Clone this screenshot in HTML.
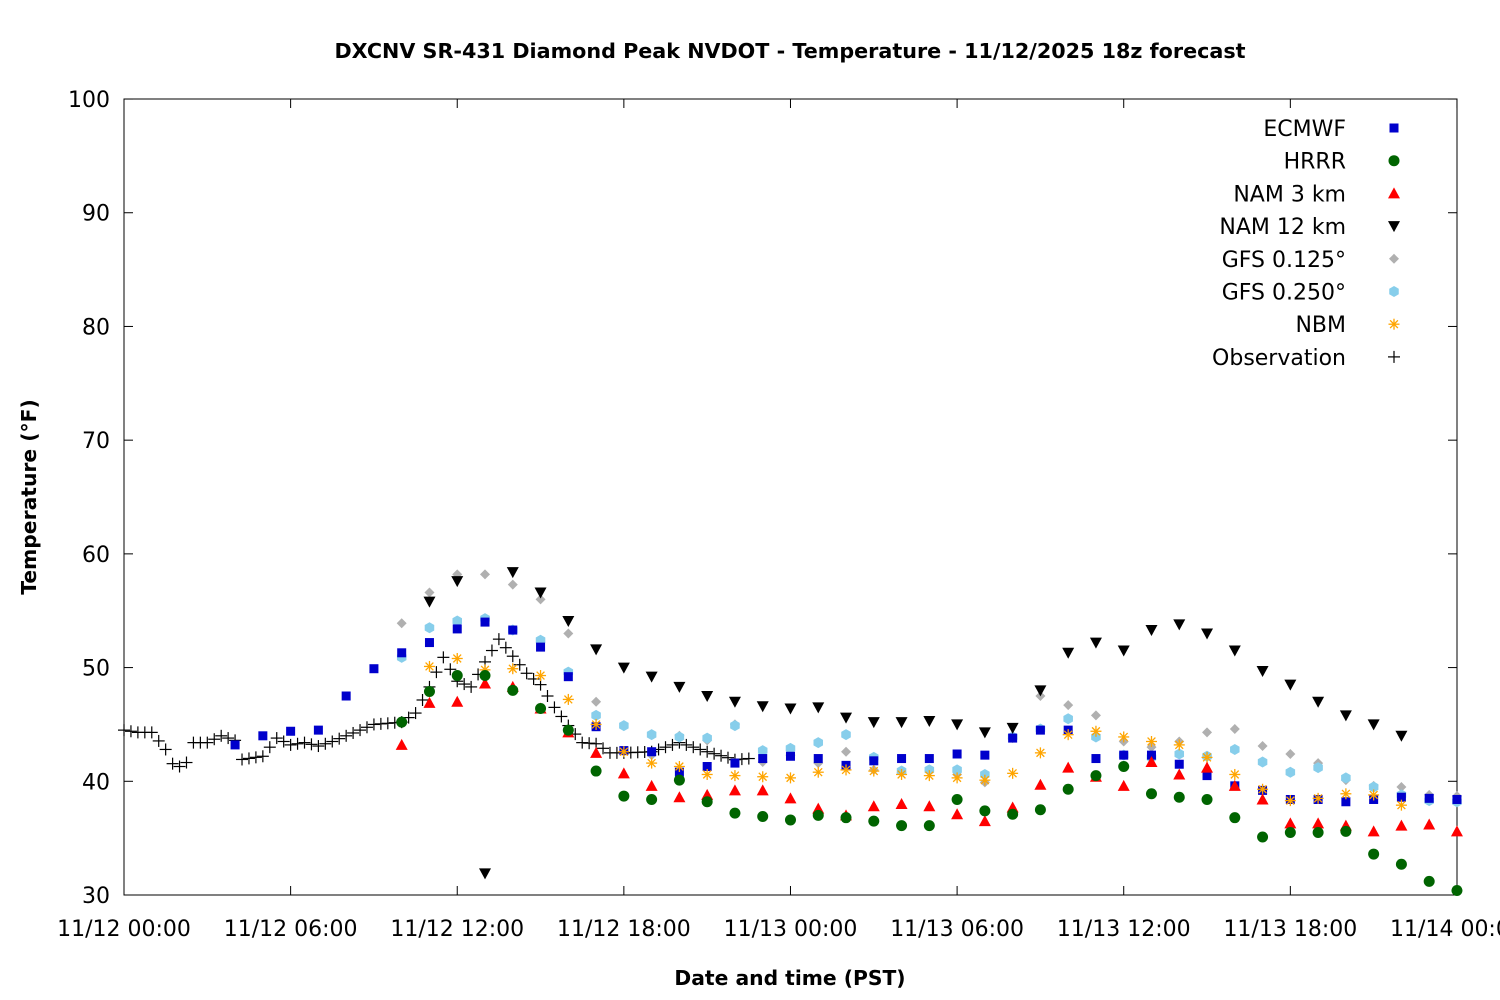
<!DOCTYPE html>
<html><head><meta charset="utf-8"><style>
body{margin:0;background:#fff;}
svg{display:block;font-family:"DejaVu Sans","Liberation Sans",sans-serif;}
</style></head><body>
<svg id="s" width="1500" height="1000" xmlns="http://www.w3.org/2000/svg">
<rect width="1500" height="1000" fill="#fff"/>
<text x="790" y="58" text-anchor="middle" font-size="20.7" font-weight="bold">DXCNV SR-431 Diamond Peak NVDOT - Temperature - 11/12/2025 18z forecast</text>
<rect x="124" y="99" width="1333" height="796" fill="none" stroke="#000" stroke-width="1"/>
<g id="ax"></g>
<text transform="translate(36,497) rotate(-90)" text-anchor="middle" font-size="20.3" font-weight="bold">Temperature (°F)</text>
<text x="790" y="985" text-anchor="middle" font-size="20.3" font-weight="bold">Date and time (PST)</text>
<g id="d"></g>
</svg>
<script>
const NS="http://www.w3.org/2000/svg";
const ax=document.getElementById('ax'),d=document.getElementById('d');
function X(h){return 124+h*27.77;}
function Y(v){return 895-(v-30)*11.371;}
function el(p,t,a,txt){const e=document.createElementNS(NS,t);for(const k in a)e.setAttribute(k,a[k]);if(txt!==undefined)e.textContent=txt;p.appendChild(e);return e;}
for(let v=30;v<=100;v+=10){const y=Y(v);
 el(ax,'line',{x1:124,y1:y,x2:133,y2:y,stroke:'#000'});el(ax,'line',{x1:1448,y1:y,x2:1457,y2:y,stroke:'#000'});
 el(ax,'text',{x:110,y:y+8,'text-anchor':'end','font-size':22},v);}
const xl=["11/12 00:00","11/12 06:00","11/12 12:00","11/12 18:00","11/13 00:00","11/13 06:00","11/13 12:00","11/13 18:00","11/14 00:00"];
xl.forEach((t,i)=>{const x=X(i*6);el(ax,'line',{x1:x,y1:895,x2:x,y2:886,stroke:'#000'});el(ax,'line',{x1:x,y1:99,x2:x,y2:108,stroke:'#000'});
 el(ax,'text',{x:x,y:936,'text-anchor':'middle','font-size':22},t);});
function mk(type,x,y){
 if(type=='sq')el(d,'rect',{x:x-4.5,y:y-4.5,width:9,height:9,fill:'#0000cc'});
 else if(type=='ci')el(d,'circle',{cx:x,cy:y,r:5.5,fill:'#006400'});
 else if(type=='up')el(d,'polygon',{points:`${x},${y-6} ${x-6},${y+5} ${x+6},${y+5}`,fill:'#ff0000'});
 else if(type=='dn')el(d,'polygon',{points:`${x},${y+6} ${x-6},${y-5} ${x+6},${y-5}`,fill:'#000'});
 else if(type=='di')el(d,'polygon',{points:`${x},${y-5} ${x+5},${y} ${x},${y+5} ${x-5},${y}`,fill:'#b0b0b0'});
 else if(type=='he'){let p=[];for(let i=0;i<6;i++){const a=Math.PI/3*i+Math.PI/6;p.push((x+5.5*Math.cos(a))+','+(y+5.5*Math.sin(a)));}el(d,'polygon',{points:p.join(' '),fill:'#87ceeb'});}
 else if(type=='st'){for(let i=0;i<4;i++){const a=Math.PI/4*i;el(d,'line',{x1:x-5.5*Math.cos(a),y1:y-5.5*Math.sin(a),x2:x+5.5*Math.cos(a),y2:y+5.5*Math.sin(a),stroke:'#ffa500','stroke-width':1.3});}}
 else if(type=='pl'){el(d,'line',{x1:x-6,y1:y,x2:x+6,y2:y,stroke:'#000','stroke-width':1.2});el(d,'line',{x1:x,y1:y-6,x2:x,y2:y+6,stroke:'#000','stroke-width':1.2});}
}
function ser(type,start,vals){vals.forEach((v,i)=>mk(type,X(start+i),Y(v)));}
const kp=[[0,44.5],[0.5,44.3],[1,44.3],[1.5,42.8],[1.8,41.3],[2.2,41.3],[2.5,43.4],[3,43.4],[3.5,44],[4,43.6],[4.2,41.9],[5,42.2],[5.5,43.8],[6,43.2],[6.5,43.4],[7,43.1],[7.5,43.5],[8,44],[9,45],[10,45.2],[10.5,46],[11,48.3],[11.5,50.9],[12,48.8],[12.5,48.3],[13,50.5],[13.5,52.5],[14,51],[14.5,49.5],[15,48.5],[15.5,46.5],[16,44.9],[16.5,43.4],[17,43.3],[17.5,42.5],[18,42.5],[19,42.6],[20,43.4],[21,42.6],[22,41.9],[22.5,42]];
for(let h=0;h<=22.5;h+=0.25){let i=0;while(i<kp.length-2&&kp[i+1][0]<h)i++;const a=kp[i],b=kp[i+1];const t=Math.min(1,Math.max(0,(h-a[0])/(b[0]-a[0])));mk('pl',X(h),Y(a[1]+(b[1]-a[1])*t));}
ser('di',10,[53.9,56.6,58.2,58.2,57.3,56,53,47,42.6,42.3,44,43.6,45,41.7,42.3,41.6,42.6,41,40.8,40.9,40.6,39.9,43.8,47.5,46.7,45.8,43.5,43,43.5,44.3,44.6,43.1,42.4,41.6,40.1,39.6,39.5,38.8,38.7]);
ser('he',10,[50.9,53.5,54.1,54.3,53.3,52.4,49.6,45.8,44.9,44.1,43.9,43.8,44.9,42.7,42.9,43.4,44.1,42.1,40.9,41,41,40.6,43.9,44.6,45.5,43.9,42.3,42.1,42.4,42.2,42.8,41.7,40.8,41.2,40.3,39.5,38.8,38.3,38.2]);
ser('sq',4,[43.2,44,44.4,44.5,47.5,49.9,51.3,52.2,53.4,54,53.3,51.8,49.2,44.8,42.7,42.6,40.8,41.3,41.6,42,42.2,42,41.4,41.8,42,42,42.4,42.3,43.8,44.5,44.5,42,42.3,42.3,41.5,40.5,39.6,39.2,38.4,38.4,38.2,38.4,38.6,38.5,38.4]);
ser('st',11,[50.1,50.8,49.8,49.9,49.3,47.2,45,42.6,41.6,41.3,40.6,40.5,40.4,40.3,40.8,41,40.9,40.6,40.5,40.3,40.1,40.7,42.5,44.1,44.4,43.9,43.5,43.2,42.1,40.6,39.3,38.3,38.5,38.9,38.8,37.9]);
ser('up',10,[43.2,46.9,47,48.6,48.3,46.4,44.3,42.5,40.7,39.6,38.6,38.8,39.2,39.2,38.5,37.6,37,37.8,38,37.8,37.1,36.5,37.7,39.7,41.2,40.4,39.6,41.7,40.6,41.2,39.6,38.4,36.3,36.3,36.1,35.6,36.1,36.2,35.6]);
ser('ci',10,[45.2,47.9,49.3,49.3,48,46.4,44.5,40.9,38.7,38.4,40.1,38.2,37.2,36.9,36.6,37,36.8,36.5,36.1,36.1,38.4,37.4,37.1,37.5,39.3,40.5,41.3,38.9,38.6,38.4,36.8,35.1,35.5,35.5,35.6,33.6,32.7,31.2,30.4]);
ser('dn',11,[55.8,57.6,31.9,58.4,56.6,54.1,51.6,50,49.2,48.3,47.5,47,46.6,46.4,46.5,45.6,45.2,45.2,45.3,45,44.3,44.7,48,51.3,52.2,51.5,53.3,53.8,53,51.5,49.7,48.5,47,45.8,45,44]);
const lg=[["ECMWF",'sq'],["HRRR",'ci'],["NAM 3 km",'up'],["NAM 12 km",'dn'],["GFS 0.125°",'di'],["GFS 0.250°",'he'],["NBM",'st'],["Observation",'pl']];
lg.forEach((l,i)=>{const y=128+i*32.7;el(d,'text',{x:1346,y:y+8,'text-anchor':'end','font-size':22},l[0]);mk(l[1],1394,y);});
</script>
</body></html>
